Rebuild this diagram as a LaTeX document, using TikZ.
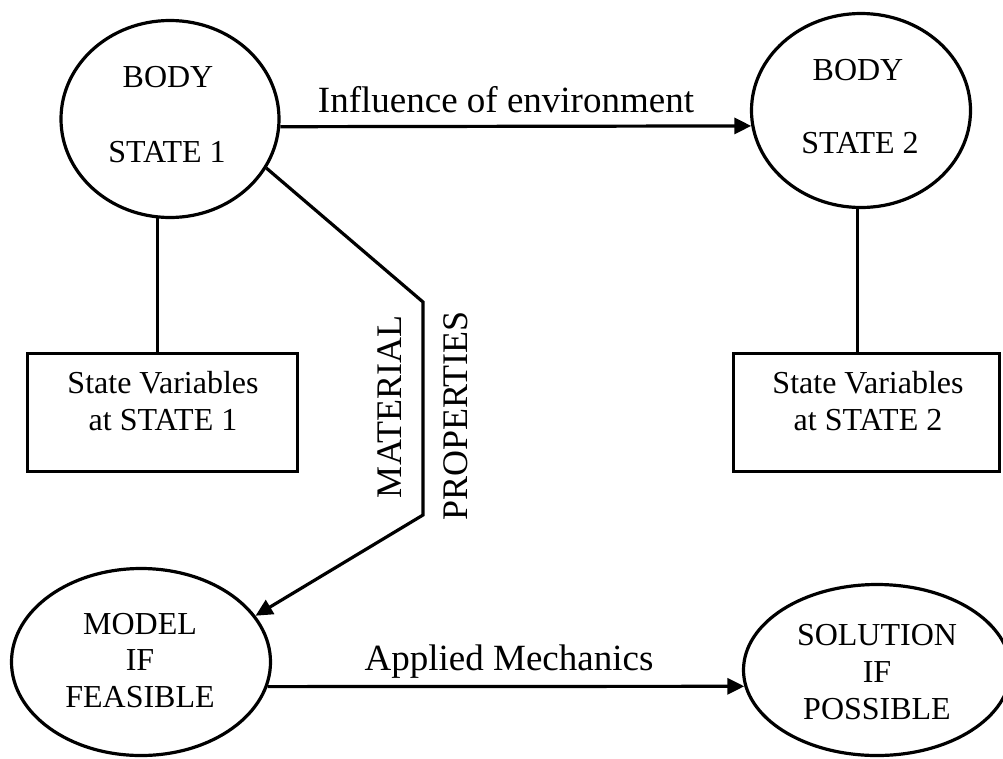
\documentclass[tikz,border=0pt]{standalone}
\usepackage{fontspec}
\setmainfont{Liberation Serif}
\usetikzlibrary{shapes.geometric,arrows.meta}
\begin{document}
\begin{tikzpicture}[x=1pt,y=-1pt,
  ell/.style={draw, ellipse, line width=3.2pt, inner sep=0pt},
  box/.style={draw, rectangle, line width=3.2pt, inner sep=0pt},
  txt/.style={anchor=base, inner sep=0pt, font=\fontsize{32pt}{38pt}\selectfont},
  big/.style={anchor=base, inner sep=0pt, font=\fontsize{37pt}{44pt}\selectfont},
  side/.style={rotate=90, inner sep=0pt, font=\fontsize{36pt}{43pt}\selectfont},
  conn/.style={line width=3.2pt},
  arr/.style={conn, -{Triangle[length=17pt,width=16pt]}}]
\useasboundingbox (0,0) rectangle (1003,758);
\fill[white] (0,0) rectangle (1003,758);

% states, model and solution
\node[ell, minimum width=218pt, minimum height=197pt] (e1) at (170,119) {};
\node[ell, minimum width=219pt, minimum height=194pt] (e2) at (861,110.5) {};
\node[ell, minimum width=259pt, minimum height=187pt] (e3) at (141,662) {};
\node[ell, minimum width=267pt, minimum height=171pt] (e4) at (877,670) {};

% state variable boxes
\node[box, minimum width=270pt, minimum height=118pt] (b1) at (162.5,412.5) {};
\node[box, minimum width=266pt, minimum height=118pt] (b2) at (866.5,412.5) {};

% texts inside the shapes
\node[txt] (t1a) at (168,87) {BODY};
\node[txt] (t1b) at (167,162) {STATE 1};
\node[txt] (t2a) at (858,80) {BODY};
\node[txt] (t2b) at (860,153) {STATE 2};
\node[txt] (t3a) at (140,634) {MODEL};
\node[txt] (t3b) at (140,670) {IF};
\node[txt] (t3c) at (140,707) {FEASIBLE};
\node[txt] (t4a) at (877,645) {SOLUTION};
\node[txt] (t4b) at (877,682) {IF};
\node[txt] (t4c) at (877,719) {POSSIBLE};
\node[txt] (v1a) at (163,393) {State Variables};
\node[txt] (v1b) at (163,430) {at STATE 1};
\node[txt] (v2a) at (868,393) {State Variables};
\node[txt] (v2b) at (868,430) {at STATE 2};

% connector labels
\node[big] (l1) at (506,112) {Influence of environment};
\node[big] (l2) at (509,670) {Applied Mechanics};
\node[side] (l3) at (390,407) {MATERIAL};
\node[side] (l4) at (456,416) {PROPERTIES};

% connectors
\coordinate (k1) at (423,302);
\coordinate (k2) at (423,515);
\draw[arr] (e1.-4) -- (e2.188);
\draw[arr] (e3.-11.8) -- (e4.187.9);
\draw[conn] (e1.-97) -- (e1.-97 |- b1.north);
\draw[conn] (e2.-92) -- (e2.-92 |- b2.north);
\draw[arr] (e1.-27) -- (k1) -- (k2) -- (e3.22);
\end{tikzpicture}
\end{document}
